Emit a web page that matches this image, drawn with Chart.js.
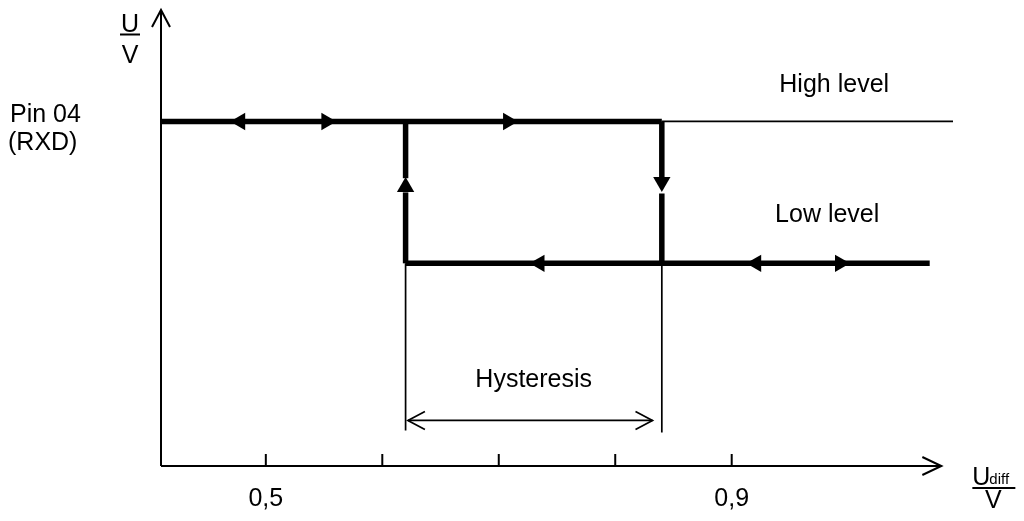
<!DOCTYPE html>
<html>
<head>
<meta charset="utf-8">
<script src="https://cdn.jsdelivr.net/npm/chart.js@4.4.1/dist/chart.umd.min.js"></script>
<style>
  html, body { margin: 0; padding: 0; background: #fff; }
  #wrap { width: 1024px; height: 521px; }
</style>
</head>
<body>
<div id="wrap"><canvas id="hyst" width="1024" height="521"></canvas></div>
<script>
// x = differential input voltage in V, y = output level (no values shown)
const xRange = [0.41, 1.09]
const yRange = [0, 4.5]
const xTicks = [0.5, 0.6, 0.7, 0.8, 0.9]
const xTickLabels = ['0,5', '', '', '', '0,9']

// segments of the switching curve, [x, y]
const highBold = [[0.41, 3.4], [0.84, 3.4]]
const highThin = [[0.84, 3.4], [1.09, 3.4]]
const lowBold = [[0.62, 2.0], [1.07, 2.0]]
const riseLower = [[0.62, 2.0], [0.62, 2.70]]
const riseUpper = [[0.62, 2.84], [0.62, 3.4]]
const fallUpper = [[0.84, 3.4], [0.84, 2.85]]
const fallLower = [[0.84, 2.69], [0.84, 2.0]]
const markLeft = [[0.62, 2.0], [0.62, 0.35]]
const markRight = [[0.84, 2.0], [0.84, 0.33]]
const hystSpan = [[0.622, 0.45], [0.832, 0.45]]
const xAxisLine = [[0.41, 0], [1.08, 0]]
const yAxisLine = [[0.41, 0], [0.41, 4.5]]

// direction arrows on the bold path (heading in degrees, 0 = up)
const arrowX = [0.478, 0.552, 0.708, 0.735, 0.921, 0.993, 0.62, 0.84]
const arrowY = [3.4, 3.4, 3.4, 2.0, 2.0, 2.0, 2.753, 2.803]
const arrowDir = [270, 90, 90, 270, 270, 90, 0, 180]

// annotation texts placed at data coordinates (x centre, y baseline)
const noteText = ['High level', 'Low level', 'Hysteresis']
const noteX = [0.988, 0.982, 0.730]
const noteY = [3.69, 2.41, 0.78]

const FONT = '"Liberation Sans", Arial, sans-serif'

const pts = arr => arr.map(p => ({ x: p[0], y: p[1] }))

function seg(data, width) {
  return {
    data: pts(data),
    showLine: true,
    borderColor: '#000',
    borderWidth: width,
    pointRadius: 0,
    borderCapStyle: 'butt',
    clip: false
  }
}

function openHead(ctx, tx, ty, dx, dy, len, half) {
  ctx.beginPath()
  ctx.moveTo(tx - dx * len - dy * half, ty - dy * len + dx * half)
  ctx.lineTo(tx, ty)
  ctx.lineTo(tx - dx * len + dy * half, ty - dy * len - dx * half)
  ctx.stroke()
}

const decorations = {
  id: 'decorations',
  afterDatasetsDraw(chart) {
    const { ctx, chartArea, scales: { x, y } } = chart
    const px = v => x.getPixelForValue(v)
    const py = v => y.getPixelForValue(v)
    const x0 = px(xRange[0])
    const y0 = py(0)

    ctx.save()
    ctx.strokeStyle = '#000'
    ctx.fillStyle = '#000'

    // axis arrow heads
    ctx.lineWidth = 2
    openHead(ctx, x0, chartArea.top, 0, -1, 17, 9)
    openHead(ctx, px(xAxisLine[1][0]), y0, 1, 0, 19, 9)

    // tick marks pointing up from the axis
    xTicks.forEach(t => {
      ctx.beginPath()
      ctx.moveTo(px(t), y0)
      ctx.lineTo(px(t), y0 - 12)
      ctx.stroke()
    })

    // hysteresis span heads
    ctx.lineWidth = 1.7
    openHead(ctx, px(hystSpan[0][0]), py(hystSpan[0][1]), -1, 0, 17, 9)
    openHead(ctx, px(hystSpan[1][0]), py(hystSpan[1][1]), 1, 0, 17, 9)

    ctx.font = '25px ' + FONT
    ctx.textBaseline = 'alphabetic'

    // tick labels
    ctx.textAlign = 'center'
    xTicks.forEach((t, i) => {
      if (xTickLabels[i]) ctx.fillText(xTickLabels[i], px(t), y0 + 40)
    })

    // annotations
    noteText.forEach((s, i) => ctx.fillText(s, px(noteX[i]), py(noteY[i])))

    // y axis unit U / V
    const ux = x0 - 31
    ctx.fillText('U', ux, 32)
    ctx.fillRect(ux - 10, 33.5, 20, 2)
    ctx.fillText('V', ux, 63)

    // x axis unit U_diff / V
    const tip = px(xAxisLine[1][0])
    ctx.textAlign = 'left'
    ctx.fillText('U', tip + 31, y0 + 19)
    ctx.font = '15px ' + FONT
    ctx.fillText('diff', tip + 48, y0 + 18)
    ctx.fillRect(tip + 31, y0 + 21, 43, 2)
    ctx.font = '25px ' + FONT
    ctx.textAlign = 'center'
    ctx.fillText('V', tip + 52, y0 + 42)

    // output pin name
    ctx.textAlign = 'left'
    const yh = py(highBold[0][1])
    ctx.fillText('Pin 04', 10, yh + 0.5)
    ctx.fillText('(RXD)', 8, yh + 29)

    ctx.restore()
  }
}

new Chart(document.getElementById('hyst'), {
  type: 'scatter',
  data: {
    datasets: [
      seg(xAxisLine, 2),
      seg(yAxisLine, 2),
      seg(highThin, 1.7),
      seg(markLeft, 1.7),
      seg(markRight, 1.7),
      seg(hystSpan, 1.7),
      seg(highBold, 5.5),
      seg(lowBold, 5.5),
      seg(riseLower, 5.5),
      seg(riseUpper, 5.5),
      seg(fallUpper, 5.5),
      seg(fallLower, 5.5),
      {
        data: arrowX.map((v, i) => ({ x: v, y: arrowY[i] })),
        showLine: false,
        pointStyle: 'triangle',
        pointRadius: 10,
        pointRotation: arrowDir,
        backgroundColor: '#000',
        borderColor: '#000',
        borderWidth: 0,
        clip: false
      }
    ]
  },
  options: {
    responsive: false,
    animation: false,
    events: [],
    layout: { padding: { left: 161, top: 10, right: 71, bottom: 55 } },
    plugins: { legend: { display: false }, tooltip: { enabled: false } },
    scales: {
      x: { type: 'linear', display: false, min: xRange[0], max: xRange[1] },
      y: { type: 'linear', display: false, min: yRange[0], max: yRange[1] }
    }
  },
  plugins: [decorations]
})
</script>
</body>
</html>
